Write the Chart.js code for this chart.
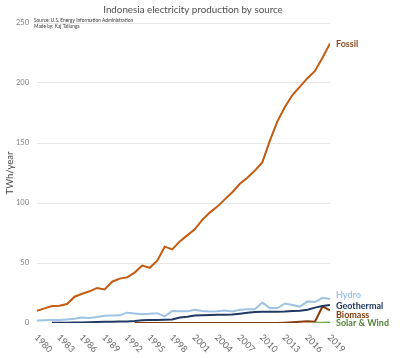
<!DOCTYPE html>
<html>
<head>
<meta charset="utf-8">
<script src="https://cdn.jsdelivr.net/npm/chart.js@4.4.1/dist/chart.umd.min.js"></script>
<style>
  html, body { margin: 0; padding: 0; background: #fff; }
  #wrap { width: 400px; height: 358px; position: relative; }
</style>
</head>
<body>
<div id="wrap"><canvas id="chart"></canvas></div>
<script>
// --- Data (TWh/year) ---
const years = [1980, 1981, 1982, 1983, 1984, 1985, 1986, 1987, 1988, 1989,
               1990, 1991, 1992, 1993, 1994, 1995, 1996, 1997, 1998, 1999,
               2000, 2001, 2002, 2003, 2004, 2005, 2006, 2007, 2008, 2009,
               2010, 2011, 2012, 2013, 2014, 2015, 2016, 2017, 2018, 2019];
const fossil = [10.2, 12.2, 14.2, 14.4, 15.8, 21.9, 24.4, 26.4, 29.2, 28,
                34.4, 37, 38, 42, 47.8, 46, 52, 63.6, 61.4, 68,
                73, 78, 86, 92, 97, 103, 109, 116, 121, 127,
                134, 152, 168, 180, 190, 197, 204, 210, 221, 233];
const hydro = [2, 2.2, 2.4, 2.5, 3, 3.5, 4.5, 4.2, 5, 6,
               6.2, 6.4, 8.6, 8, 7.3, 7.8, 8.2, 5.5, 10, 9.8,
               9.7, 11, 10, 9.5, 9.7, 10.5, 9.6, 11, 11.5, 11.4,
               17, 12.4, 12.5, 16.3, 15, 13.7, 18, 17.5, 21, 20];
const geothermal = [null, null, 0.2, 0.3, 0.3, 0.4, 0.5, 0.7, 0.9, 1,
                    1.1, 1.2, 1.3, 1.6, 2.2, 2.4, 2.6, 2.8, 2.9, 4.5,
                    5.2, 6.3, 6.5, 6.7, 6.8, 6.9, 7, 7.8, 8.5, 9.2,
                    9.4, 9.4, 9.4, 9.5, 10, 10.2, 11, 12.8, 14.2, 15];
const biomass = [null, null, null, null, null, null, null, null, null, null,
                 null, null, null, 0.1, 0.1, 0.1, 0.1, 0.1, 0.1, 0.1,
                 0.1, 0.1, 0.1, 0.1, 0.1, 0.1, 0.1, 0.1, 0.1, 0.1,
                 0.1, 0.1, 0.1, 0.3, 0.6, 1.0, 1.4, 1.0, 13.8, 10.5];
const solarWind = [null, null, null, null, null, null, null, null, null, null,
                   null, null, null, null, null, null, null, null, null, null,
                   null, null, null, null, null, null, null, null, null, null,
                   null, null, null, null, null, null, null, 0.2, 0.3, 0.4];
const xTickYears = [1980, 1983, 1986, 1989, 1992, 1995, 1998, 2001, 2004, 2007, 2010, 2013, 2016, 2019];
const yTicks = [0, 50, 100, 150, 200, 250];

function pts(arr) {
    return years.map((yr, i) => ({ x: yr, y: arr[i] }));
}

// --- Title, source, rotated year labels and line-end labels ---
const extrasPlugin = {
    id: 'extras',
    afterDraw(chart) {
        const ctx = chart.ctx;
        const xs = chart.scales.x;
        const ys = chart.scales.y;
        ctx.save();

        ctx.fillStyle = '#4d4d4d';
        ctx.font = '9.8px Lato';
        ctx.textAlign = 'center';
        ctx.textBaseline = 'middle';
        ctx.fillText('Indonesia electricity production by source', 193, 10);

        ctx.fillStyle = '#333';
        ctx.font = '4.8px Lato';
        ctx.textAlign = 'left';
        ctx.fillText('Source: U.S. Energy Information Administration', 34, 20);
        ctx.fillText('Made by: Kaj Tallungs', 34, 26);

        ctx.fillStyle = '#666';
        ctx.font = '9px Lato';
        xTickYears.forEach(yr => {
            const px = xs.getPixelForValue(yr);
            ctx.save();
            ctx.translate(px - 1, 336);
            ctx.rotate(Math.PI / 4);
            ctx.textAlign = 'left';
            ctx.textBaseline = 'middle';
            ctx.fillText(String(yr), 0, 0);
            ctx.restore();
        });

        ctx.font = 'bold 9px Lato';
        ctx.textAlign = 'left';
        chart.data.datasets.forEach(ds => {
            const last = ds.data[ds.data.length - 1];
            const py = ys.getPixelForValue(last.y) + ds.labelDy;
            ctx.fillStyle = ds.labelColor;
            ctx.fillText(ds.label, 336, py);
        });
        ctx.restore();
    }
};

function initChart() {
    const ctx = document.getElementById('chart').getContext('2d');
    new Chart(ctx, {
        type: 'line',
        data: {
            datasets: [
                { label: 'Hydro', data: pts(hydro), borderColor: '#9dc3e6', labelColor: '#9dc3e6', labelDy: -4 },
                { label: 'Geothermal', data: pts(geothermal), borderColor: '#203864', labelColor: '#203864', labelDy: 1 },
                { label: 'Solar & Wind', data: pts(solarWind), borderColor: '#70ad47', labelColor: '#548235', labelDy: 1 },
                { label: 'Biomass', data: pts(biomass), borderColor: '#843c0c', labelColor: '#843c0c', labelDy: 4.5 },
                { label: 'Fossil', data: pts(fossil), borderColor: '#c55a11', labelColor: '#8f4a20', labelDy: 1 }
            ]
        },
        options: {
            responsive: false,
            animation: false,
            elements: {
                point: { radius: 0 },
                line: { borderWidth: 2, tension: 0 }
            },
            layout: { padding: { left: 0, right: 70, top: 23, bottom: 35 } },
            plugins: {
                legend: { display: false },
                tooltip: { enabled: false }
            },
            scales: {
                x: {
                    type: 'linear',
                    min: 1980,
                    max: 2019,
                    grid: { display: false },
                    border: { display: false },
                    ticks: { display: false },
                    afterFit: s => { s.height = 0; }
                },
                y: {
                    min: 0,
                    max: 250,
                    afterBuildTicks: s => { s.ticks = yTicks.map(v => ({ value: v })); },
                    afterFit: s => { s.width = 37; },
                    grid: {
                        drawTicks: false,
                        color: ctx => ctx.tick.value === 0 ? 'rgba(0,0,0,0)' : '#e6e6e6',
                        lineWidth: 1
                    },
                    border: { display: false },
                    ticks: {
                        padding: 8,
                        color: '#808080',
                        font: { family: 'Lato', size: 7.5 }
                    },
                    title: {
                        display: true,
                        text: 'TWh/year',
                        color: '#404040',
                        font: { family: 'Lato', size: 9.5 },
                        padding: { top: 4, bottom: 0 }
                    }
                }
            }
        },
        plugins: [extrasPlugin]
    });
}

document.getElementById('chart').width = 400;
document.getElementById('chart').height = 358;
initChart();
</script>
</body>
</html>
